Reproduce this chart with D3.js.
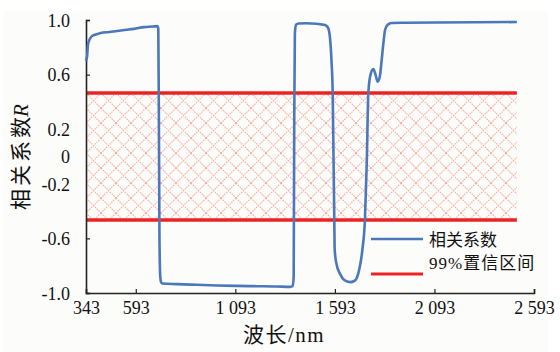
<!DOCTYPE html>
<html>
<head>
<meta charset="utf-8">
<script src="https://cdn.jsdelivr.net/npm/d3@7"></script>
<style>
  body { margin: 0; background: #fff; }
  svg { display: block; }
</style>
</head>
<body>
<div id="chart"></div>
<script>
// wavelength (nm) and correlation coefficient R
const wavelength = [343, 349, 353, 362, 375, 395, 417, 460, 499, 545, 584, 634, 680, 701, 706, 709, 712, 716, 720, 726,
  800, 900, 1000, 1100, 1200, 1300, 1368, 1381, 1386, 1389, 1392, 1398, 1410, 1450, 1500, 1543, 1558, 1568, 1576, 1582,
  1586, 1590, 1592, 1600, 1619, 1640, 1669, 1690, 1703, 1718, 1731, 1744, 1753, 1761, 1772, 1786, 1797, 1808, 1818, 1828,
  1838, 1845, 1858, 1878, 1950, 2100, 2300, 2507];
const corr = [0.70, 0.74, 0.82, 0.86, 0.885, 0.895, 0.905, 0.912, 0.92, 0.928, 0.935, 0.948, 0.952, 0.955, 0.94, 0.3, -0.6, -0.88, -0.92, -0.93,
  -0.935, -0.94, -0.945, -0.948, -0.95, -0.952, -0.955, -0.95, -0.88, 0.3, 0.9, 0.965, 0.974, 0.976, 0.972, 0.963, 0.945, 0.875, 0.7, 0.465,
  0.0, -0.46, -0.68, -0.78, -0.86, -0.905, -0.92, -0.912, -0.89, -0.81, -0.685, -0.458, -0.05, 0.465, 0.6, 0.64, 0.6, 0.548, 0.58, 0.707,
  0.85, 0.927, 0.965, 0.978, 0.98, 0.982, 0.984, 0.985];
const confLevel = 0.465;

const xTicks = [343, 593, 1093, 1593, 2093, 2593];
const xTickLabels = ['343', '593', '1 093', '1 593', '2 093', '2 593'];
const yTicks = [1, 0.6, 0.2, 0, -0.2, -0.6, -1];
const yTickLabels = ['1.0', '0.6', '0.2', '0', '-0.2', '-0.6', '-1.0'];
const legendNames = ['相关系数', '99%置信区间'];

const width = 560, height = 352;
const margin = { left: 86, right: 26, top: 20, bottom: 59 };

const svg = d3.select('#chart').append('svg')
  .attr('width', width)
  .attr('height', height);

svg.append('rect')
  .attr('x', 3).attr('y', 10)
  .attr('width', 545).attr('height', 342)
  .attr('fill', '#fcfcfb');

const x = d3.scaleLinear().domain([343, 2593]).range([margin.left, width - margin.right]);
const y = d3.scaleLinear().domain([-1, 1]).range([height - margin.bottom, margin.top]);

const serif = '"Times New Roman", "Liberation Serif", "DejaVu Serif", serif';
const cjk = '"Times New Roman", "Liberation Serif", "Noto Sans CJK SC", serif';

// hatch pattern for the confidence band
const defs = svg.append('defs');
const pat = defs.append('pattern')
  .attr('id', 'hatch')
  .attr('patternUnits', 'userSpaceOnUse')
  .attr('width', 15).attr('height', 15)
  .attr('x', margin.left).attr('y', y(confLevel));
pat.append('path')
  .attr('d', 'M0,0L15,15M15,0L0,15')
  .attr('stroke', '#f0907a')
  .attr('stroke-width', 1.1)
  .attr('stroke-opacity', 0.75)
  .attr('stroke-dasharray', '1.6,0.9')
  .attr('fill', 'none');

const xEnd = wavelength[wavelength.length - 1];

svg.append('rect')
  .attr('x', x(343))
  .attr('y', y(confLevel))
  .attr('width', x(xEnd) - x(343))
  .attr('height', y(-confLevel) - y(confLevel))
  .attr('fill', 'url(#hatch)');

// confidence lines
[confLevel, -confLevel].forEach(v => {
  svg.append('line')
    .attr('x1', x(343)).attr('x2', x(xEnd))
    .attr('y1', y(v)).attr('y2', y(v))
    .attr('stroke', '#ee2222')
    .attr('stroke-width', 3.5);
});

// axes
const xAxis = svg.append('g')
  .attr('transform', `translate(0,${y(-1)})`)
  .call(d3.axisBottom(x).tickValues(xTicks).tickSize(-4).tickPadding(8)
    .tickFormat((d, i) => xTickLabels[i]));
const yAxis = svg.append('g')
  .attr('transform', `translate(${x(343)},0)`)
  .call(d3.axisLeft(y).tickValues(yTicks).tickSize(-4).tickPadding(16)
    .tickFormat((d, i) => yTickLabels[i]));

[xAxis, yAxis].forEach(a => {
  a.attr('font-family', serif).attr('font-size', 18);
  a.select('.domain').attr('stroke', '#222').attr('stroke-width', 1.6);
  a.selectAll('.tick line').attr('stroke', '#222').attr('stroke-width', 1.2);
  a.selectAll('.tick text').attr('fill', '#111');
});
yAxis.selectAll('.tick text').attr('dy', '0.35em');
yAxis.selectAll('.tick line').filter(d => d === 0 || d === 0.2 || d === -0.2).remove();

// correlation curve
const line = d3.line()
  .x((d, i) => x(wavelength[i]))
  .y(d => y(d))
  .curve(d3.curveMonotoneX);

svg.append('path')
  .datum(corr)
  .attr('d', line)
  .attr('fill', 'none')
  .attr('stroke', '#4a78bb')
  .attr('stroke-width', 2.6)
  .attr('stroke-linejoin', 'round');

// axis titles
svg.append('text')
  .attr('x', 284).attr('y', 342)
  .attr('text-anchor', 'middle')
  .attr('font-family', cjk)
  .attr('font-size', 21)
  .attr('letter-spacing', 1.5)
  .attr('fill', '#111')
  .text('波长/nm');

const yTitle = svg.append('text')
  .attr('transform', 'translate(28,157) rotate(-90)')
  .attr('text-anchor', 'middle')
  .attr('font-family', cjk)
  .attr('font-size', 21)
  .attr('fill', '#111');
yTitle.append('tspan').attr('letter-spacing', 3).text('相关系');
yTitle.append('tspan').text('数');
yTitle.append('tspan').attr('font-style', 'italic').text('R');

// legend
const legend = svg.append('g')
  .attr('font-family', cjk).attr('font-size', 17).attr('fill', '#111');
legend.append('line')
  .attr('x1', 371).attr('x2', 423).attr('y1', 239).attr('y2', 239)
  .attr('stroke', '#4a78bb').attr('stroke-width', 2.6);
legend.append('line')
  .attr('x1', 371).attr('x2', 423).attr('y1', 274).attr('y2', 274)
  .attr('stroke', '#ee2222').attr('stroke-width', 3);
legend.append('text')
  .attr('x', 429).attr('y', 240).attr('dy', '0.35em')
  .text(legendNames[0]);
legend.append('text')
  .attr('x', 429).attr('y', 263).attr('dy', '0.35em')
  .attr('letter-spacing', 1)
  .text(legendNames[1]);
</script>
</body>
</html>
